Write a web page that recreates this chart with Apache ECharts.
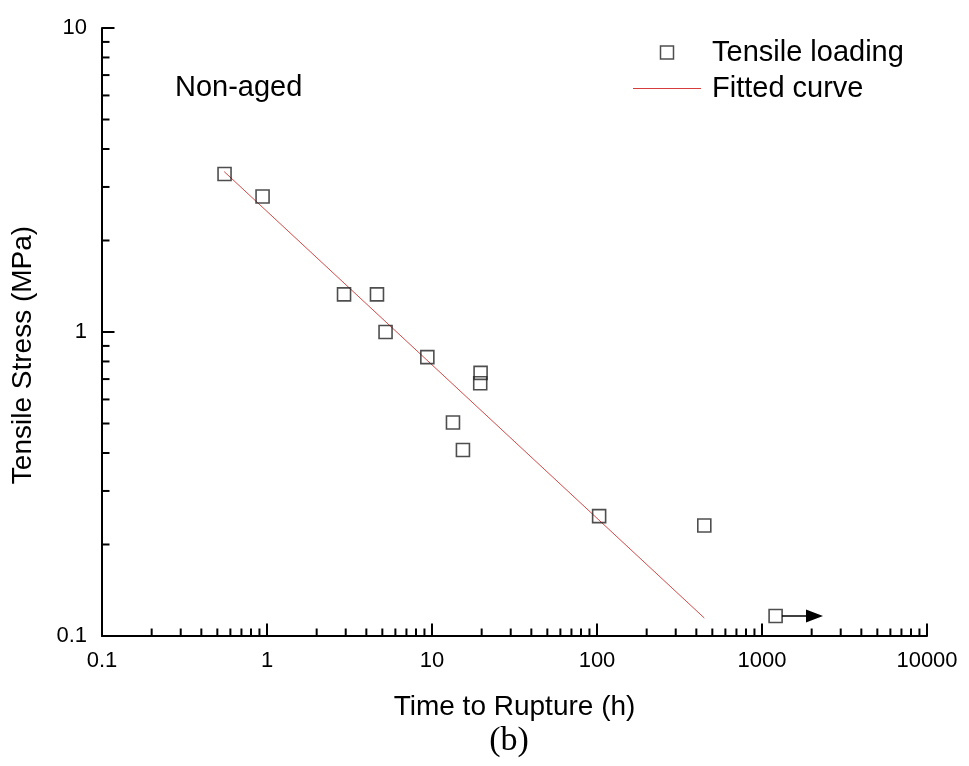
<!DOCTYPE html>
<html>
<head>
<meta charset="utf-8">
<script src="https://cdn.jsdelivr.net/npm/echarts@6/dist/echarts.min.js"></script>
<style>
html,body{margin:0;padding:0;background:#fff;}
#chart{width:969px;height:766px;}
</style>
</head>
<body>
<div id="chart"></div>
<script>
// ---- data ----
const timeToRupture = [0.553, 0.94, 2.93, 4.64, 5.23, 9.37, 19.7, 19.6, 13.4, 15.4, 103, 447, 1209];
const tensileStress = [3.31, 2.79, 1.33, 1.33, 1.00, 0.827, 0.734, 0.678, 0.504, 0.409, 0.248, 0.231, 0.1164];
const fitTime = [0.55, 447];
const fitStress = [3.37, 0.1146];
const runoutTime = [1321, 2080];
const runoutStress = 0.1164;
const xDecades = [0.1, 1, 10, 100, 1000];
const yDecades = [0.1, 1];
const minorMultiples = [2, 3, 4, 5, 6, 7, 8, 9];
const seriesNames = ['Tensile loading', 'Fitted curve'];
const panelLabel = 'Non-aged';
const figLabel = '(b)';

const FONT = 'Liberation Sans, Arial, sans-serif';
const RED = '#d63c3c';

const scatterData = timeToRupture.map((t, i) => [t, tensileStress[i]]);
const fitData = fitTime.map((t, i) => [t, fitStress[i]]);
const xMinor = [];
xDecades.forEach(d => minorMultiples.forEach(m => xMinor.push([d * m, 0.1])));
const yMinor = [];
yDecades.forEach(d => minorMultiples.forEach(m => yMinor.push([0.1, d * m])));

const chart = echarts.init(document.getElementById('chart'), null, {renderer: 'canvas'});

const fmt = v => String(+(+v).toPrecision(6));

const axisCommon = {
  type: 'log',
  logBase: 10,
  axisLine: {show: true, lineStyle: {color: '#000', width: 2}},
  axisTick: {show: true, inside: true, length: 12.5, lineStyle: {color: '#000', width: 2}},
  minorTick: {show: false},
  splitLine: {show: false},
  nameLocation: 'middle'
};

chart.setOption({
  animation: false,
  backgroundColor: '#fff',
  grid: {left: 102, right: 42, top: 28, bottom: 130, containLabel: false, outerBoundsMode: 'none'},
  legend: {
    data: [
      {name: seriesNames[0], icon: 'path://M0,0H10V10H0Z',
       itemStyle: {color: 'rgba(255,255,255,0)', borderColor: '#222', borderWidth: 1.5}},
      {name: seriesNames[1], icon: 'path://M0,0H68V1H0Z',
       itemStyle: {color: RED, borderColor: RED, borderWidth: 0}}
    ],
    symbolKeepAspect: true,
    orient: 'vertical',
    left: 633,
    top: 37.5,
    itemWidth: 68,
    itemHeight: 13,
    itemGap: 6,
    padding: 0,
    selectedMode: false,
    textStyle: {fontFamily: FONT, fontSize: 29, color: '#000', lineHeight: 30, padding: [0, 0, 0, 6]}
  },
  xAxis: Object.assign({}, axisCommon, {
    min: 0.1, max: 10000,
    name: 'Time to Rupture (h)',
    nameGap: 57,
    nameTextStyle: {fontFamily: FONT, fontSize: 28, color: '#000'},
    axisLabel: {fontFamily: FONT, fontSize: 22, color: '#000', margin: 14, formatter: fmt}
  }),
  yAxis: Object.assign({}, axisCommon, {
    min: 0.1, max: 10,
    name: 'Tensile Stress (MPa)',
    nameGap: 65,
    nameTextStyle: {fontFamily: FONT, fontSize: 28, color: '#000', padding: [0, 46, 0, 0]},
    axisLabel: {fontFamily: FONT, fontSize: 22, color: '#000', margin: 15, formatter: fmt}
  }),
  graphic: [
    {type: 'text', x: 175, y: 88, style: {text: panelLabel, font: '29px ' + FONT, fill: '#000', verticalAlign: 'middle', align: 'left'}},
    {type: 'text', x: 509, y: 741, style: {text: figLabel, font: '34px Liberation Serif, Times New Roman, serif', fill: '#000', verticalAlign: 'middle', align: 'center'}}
  ],
  series: [
    {
      name: seriesNames[1],
      type: 'line',
      data: fitData,
      symbol: 'none',
      lineStyle: {color: '#d24a4a', width: 1},
      itemStyle: {color: RED},
      z: 2
    },
    {
      name: seriesNames[0],
      type: 'scatter',
      data: scatterData,
      symbol: 'rect',
      symbolSize: 13,
      itemStyle: {color: 'rgba(255,255,255,0)', borderColor: '#222', borderWidth: 1.6},
      z: 3,
      markLine: {
        silent: true,
        animation: false,
        symbol: ['none', 'triangle'],
        symbolSize: [13, 17],
        label: {show: false},
        lineStyle: {color: '#000', width: 1.5, type: 'solid'},
        emphasis: {disabled: true},
        data: [[
          {coord: [runoutTime[0], runoutStress]},
          {coord: [runoutTime[1], runoutStress]}
        ]]
      }
    },
    {
      type: 'custom',
      silent: true,
      data: xMinor,
      encode: {x: 0, y: 1},
      renderItem: function (params, api) {
        const p = api.coord([api.value(0), api.value(1)]);
        return {type: 'line', shape: {x1: p[0], y1: p[1], x2: p[0], y2: p[1] - 7.5}, style: {stroke: '#000', lineWidth: 2}};
      },
      z: 4
    },
    {
      type: 'custom',
      silent: true,
      data: yMinor,
      encode: {x: 0, y: 1},
      renderItem: function (params, api) {
        const p = api.coord([api.value(0), api.value(1)]);
        return {type: 'line', shape: {x1: p[0], y1: p[1], x2: p[0] + 7.5, y2: p[1]}, style: {stroke: '#000', lineWidth: 2}};
      },
      z: 4
    }
  ]
});
</script>
</body>
</html>
